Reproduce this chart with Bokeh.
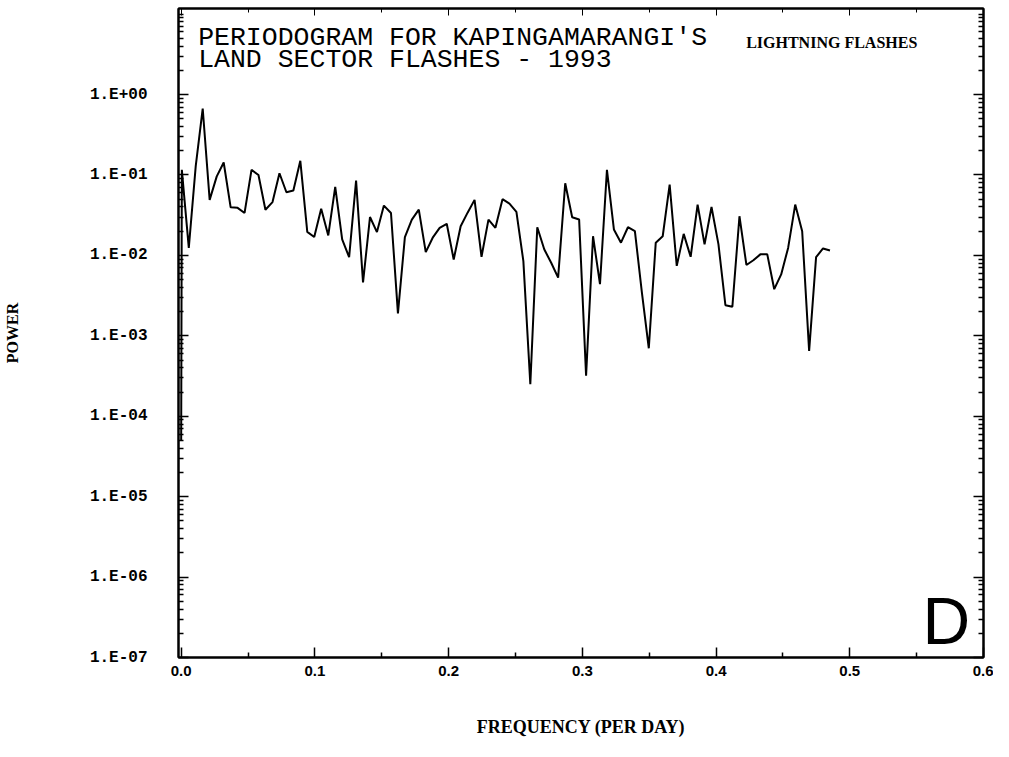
from bokeh.plotting import figure
from bokeh.models import (FixedTicker, LogAxis, LinearAxis, Range1d,
                          CustomJSTickFormatter, PrintfTickFormatter, Label)
from bokeh.embed import file_html
from bokeh.resources import INLINE

# ---- data ----
freq = [0.0000, 0.0005, 0.0057, 0.0109, 0.0161, 0.0213, 0.0266, 0.0318, 0.0370,
        0.0422, 0.0474, 0.0526, 0.0578, 0.0630, 0.0683, 0.0735, 0.0787, 0.0839,
        0.0891, 0.0943, 0.0995, 0.1047, 0.1100, 0.1152, 0.1204, 0.1256, 0.1308,
        0.1360, 0.1412, 0.1464, 0.1516, 0.1569, 0.1621, 0.1673, 0.1725, 0.1777,
        0.1829, 0.1881, 0.1933, 0.1986, 0.2038, 0.2090, 0.2142, 0.2194, 0.2246,
        0.2298, 0.2350, 0.2403, 0.2455, 0.2507, 0.2559, 0.2611, 0.2663, 0.2715,
        0.2767, 0.2819, 0.2872, 0.2924, 0.2976, 0.3028, 0.3080, 0.3132, 0.3184,
        0.3236, 0.3289, 0.3341, 0.3393, 0.3445, 0.3497, 0.3549, 0.3601, 0.3653,
        0.3706, 0.3758, 0.3810, 0.3862, 0.3914, 0.3966, 0.4018, 0.4070, 0.4122,
        0.4175, 0.4227, 0.4279, 0.4331, 0.4383, 0.4435, 0.4487, 0.4539, 0.4592,
        0.4644, 0.4696, 0.4748, 0.4800, 0.4852]

power = [5e-5, 0.116, 0.0124, 0.13, 0.67, 0.049, 0.096, 0.143, 0.0396, 0.039,
         0.0337, 0.116, 0.10, 0.037, 0.046, 0.105, 0.061, 0.064, 0.15, 0.0196,
         0.0169, 0.038, 0.0177, 0.071, 0.0158, 0.0095, 0.085, 0.0046, 0.030,
         0.0195, 0.0416, 0.0337, 0.0019, 0.0169, 0.0279, 0.037, 0.011, 0.0166,
         0.022, 0.0247, 0.0089, 0.023, 0.034, 0.049, 0.0096, 0.0279, 0.022,
         0.050, 0.044, 0.0348, 0.0085, 0.00025, 0.0224, 0.0119, 0.0081, 0.0053,
         0.079, 0.0298, 0.0279, 0.00032, 0.0173, 0.0044, 0.116, 0.021, 0.0144,
         0.0224, 0.020, 0.0035, 0.0007, 0.0144, 0.0173, 0.0757, 0.0074, 0.0185,
         0.0096, 0.0428, 0.0137, 0.040, 0.0137, 0.0024, 0.0023, 0.0307, 0.0076,
         0.0087, 0.0103, 0.0103, 0.0038, 0.0058, 0.0124, 0.0428, 0.020, 0.00065,
         0.0095, 0.0122, 0.0115]

x_major = [0.0, 0.1, 0.2, 0.3, 0.4, 0.5, 0.6]
x_minor = [0.05, 0.15, 0.25, 0.35, 0.45, 0.55]
y_major = [1e-7, 1e-6, 1e-5, 1e-4, 1e-3, 1e-2, 1e-1, 1e0]
y_minor = [k * 10.0 ** e for e in range(-7, 1) for k in range(2, 10)] + [10.0]

title_1 = "PERIODOGRAM FOR KAPINGAMARANGI'S"
title_2 = "LAND SECTOR FLASHES - 1993"
tag = "LIGHTNING FLASHES"
panel = "D"

p = figure(width=993, height=741,
           x_range=Range1d(-0.002, 0.6), y_range=Range1d(1e-7, 11.75),
           y_axis_type="log", output_backend="svg", toolbar_location=None,
           min_border_left=175, min_border_right=10,
           min_border_top=8, min_border_bottom=84)
p.grid.visible = False
p.outline_line_color = "black"
p.outline_line_width = 2
p.background_fill_color = "white"
p.border_fill_color = "white"

y_fmt = CustomJSTickFormatter(code="""
const e = Math.round(Math.log10(tick));
const s = e < 0 ? "-" : "+";
const a = Math.abs(e);
return "1.E" + s + (a < 10 ? "0" + a : "" + a);
""")

xa = p.xaxis[0]
xa.ticker = FixedTicker(ticks=x_major, minor_ticks=x_minor)
xa.formatter = PrintfTickFormatter(format="%.1f")
xa.major_tick_in = 10
xa.major_tick_out = 0
xa.minor_tick_in = 5
xa.minor_tick_out = 0
xa.axis_line_width = 2
xa.major_tick_line_width = 1.5
xa.minor_tick_line_width = 1.5
xa.major_label_text_font = "Liberation Sans"
xa.major_label_text_font_style = "bold"
xa.major_label_text_font_size = "15px"
xa.major_label_text_color = "black"
xa.major_label_standoff = 8
xa.axis_label = "FREQUENCY (PER DAY)"
xa.axis_label_text_font = "Liberation Serif"
xa.axis_label_text_font_style = "bold"
xa.axis_label_text_font_size = "18px"
xa.axis_label_text_color = "black"
xa.axis_label_standoff = 38

ya = p.yaxis[0]
ya.ticker = FixedTicker(ticks=y_major, minor_ticks=y_minor)
ya.formatter = y_fmt
ya.major_tick_in = 10
ya.major_tick_out = 0
ya.minor_tick_in = 5
ya.minor_tick_out = 0
ya.axis_line_width = 2
ya.major_tick_line_width = 1.5
ya.minor_tick_line_width = 1.5
ya.major_label_text_font = "Liberation Mono"
ya.major_label_text_font_style = "bold"
ya.major_label_text_font_size = "16px"
ya.major_label_text_color = "black"
ya.major_label_standoff = 31
ya.axis_label = "POWER"
ya.axis_label_text_font = "Liberation Serif"
ya.axis_label_text_font_style = "bold"
ya.axis_label_text_font_size = "16px"
ya.axis_label_text_color = "black"
ya.axis_label_standoff = 66

top = LinearAxis(ticker=FixedTicker(ticks=x_major, minor_ticks=x_minor),
                 major_label_text_font_size="0px", major_label_text_color=None,
                 major_tick_in=7, major_tick_out=0, minor_tick_in=4, minor_tick_out=0,
                 axis_line_width=2)
p.add_layout(top, "above")

right = LogAxis(ticker=FixedTicker(ticks=y_major, minor_ticks=y_minor),
                major_label_text_font_size="0px", major_label_text_color=None,
                major_tick_in=10, major_tick_out=0, minor_tick_in=5, minor_tick_out=0,
                axis_line_width=2, major_tick_line_width=1.5, minor_tick_line_width=1.5)
p.add_layout(right, "right")

p.line(freq, power, line_color="black", line_width=2)

p.add_layout(Label(x=0.0127, y=5.12, text=title_1, text_font="Liberation Mono",
                   text_font_size="26.5px", text_color="black", text_baseline="alphabetic"))
p.add_layout(Label(x=0.0127, y=2.72, text=title_2, text_font="Liberation Mono",
                   text_font_size="26.5px", text_color="black", text_baseline="alphabetic"))
p.add_layout(Label(x=0.4225, y=4.43, text=tag, text_font="Liberation Serif",
                   text_font_style="bold", text_font_size="16px", text_color="black",
                   text_baseline="alphabetic"))
p.add_layout(Label(x=0.5544, y=1.0e-7, text=panel, text_font="Liberation Sans",
                   text_font_size="66px", text_color="black", text_baseline="bottom"))

open("out.html", "w").write(file_html(p, INLINE))
